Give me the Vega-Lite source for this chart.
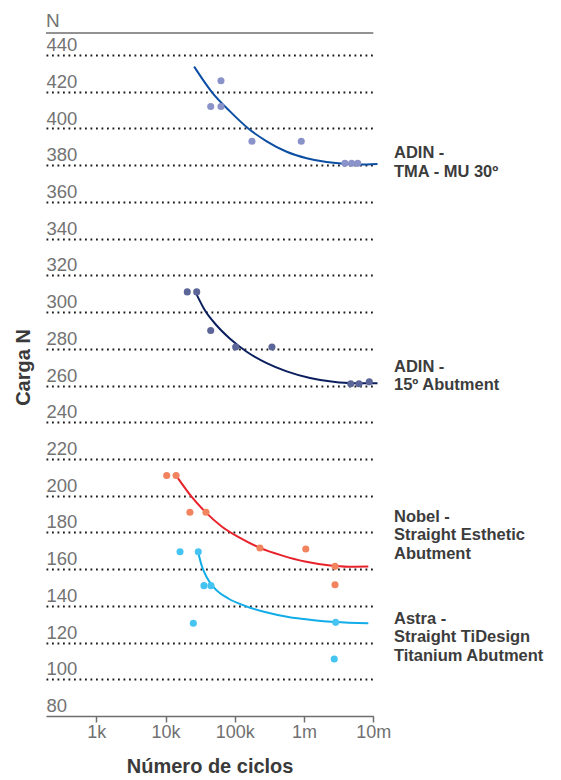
{
  "$schema": "https://vega.github.io/schema/vega-lite/v6.json",
  "autosize": {"type": "none"},
  "padding": {"left": 46, "top": 33, "right": 188, "bottom": 64},
  "width": 327.3,
  "height": 683,
  "background": "white",
  "config": {"view": {"stroke": null}, "font": "Liberation Sans"},
  "datasets": {
    "pts": [
      {"series": "tma", "cycles": 63200, "n": 426},
      {"series": "tma", "cycles": 44900, "n": 412},
      {"series": "tma", "cycles": 63200, "n": 412},
      {"series": "tma", "cycles": 177000, "n": 393},
      {"series": "tma", "cycles": 912000, "n": 393},
      {"series": "tma", "cycles": 3900000, "n": 381},
      {"series": "tma", "cycles": 4870000, "n": 381},
      {"series": "tma", "cycles": 5960000, "n": 381},
      {"series": "abut15", "cycles": 20600, "n": 311},
      {"series": "abut15", "cycles": 28200, "n": 311},
      {"series": "abut15", "cycles": 44900, "n": 290},
      {"series": "abut15", "cycles": 103000, "n": 281},
      {"series": "abut15", "cycles": 344000, "n": 281},
      {"series": "abut15", "cycles": 4720000, "n": 261},
      {"series": "abut15", "cycles": 6210000, "n": 261},
      {"series": "abut15", "cycles": 8750000, "n": 262},
      {"series": "nobel", "cycles": 10400, "n": 211},
      {"series": "nobel", "cycles": 14200, "n": 211},
      {"series": "nobel", "cycles": 22500, "n": 191},
      {"series": "nobel", "cycles": 38400, "n": 191},
      {"series": "nobel", "cycles": 231000, "n": 171.5},
      {"series": "nobel", "cycles": 1060000, "n": 171},
      {"series": "nobel", "cycles": 2800000, "n": 161.5},
      {"series": "nobel", "cycles": 2800000, "n": 151.5},
      {"series": "astra", "cycles": 16200, "n": 169.5},
      {"series": "astra", "cycles": 29700, "n": 169.5},
      {"series": "astra", "cycles": 35900, "n": 151},
      {"series": "astra", "cycles": 45300, "n": 151},
      {"series": "astra", "cycles": 25200, "n": 130.5},
      {"series": "astra", "cycles": 2860000, "n": 131},
      {"series": "astra", "cycles": 2730000, "n": 111}
    ],
    "curve": [
      {"series": "tma", "cycles": 25900, "n": 433.7},
      {"series": "tma", "cycles": 46300, "n": 420},
      {"series": "tma", "cycles": 85300, "n": 409.3},
      {"series": "tma", "cycles": 156700, "n": 400},
      {"series": "tma", "cycles": 289000, "n": 393},
      {"series": "tma", "cycles": 561000, "n": 387.3},
      {"series": "tma", "cycles": 1090000, "n": 383.8},
      {"series": "tma", "cycles": 2120000, "n": 381.7},
      {"series": "tma", "cycles": 4130000, "n": 380.7},
      {"series": "tma", "cycles": 8040000, "n": 380.4},
      {"series": "tma", "cycles": 11500000, "n": 380.6},
      {"series": "abut15", "cycles": 28200, "n": 309.5},
      {"series": "abut15", "cycles": 37200, "n": 300.8},
      {"series": "abut15", "cycles": 54800, "n": 292.7},
      {"series": "abut15", "cycles": 85300, "n": 285.5},
      {"series": "abut15", "cycles": 148600, "n": 278.4},
      {"series": "abut15", "cycles": 289000, "n": 272.2},
      {"series": "abut15", "cycles": 561000, "n": 267.7},
      {"series": "abut15", "cycles": 1220000, "n": 264.1},
      {"series": "abut15", "cycles": 2640000, "n": 262.0},
      {"series": "abut15", "cycles": 5140000, "n": 261.2},
      {"series": "abut15", "cycles": 11500000, "n": 261.2},
      {"series": "nobel", "cycles": 15000, "n": 209.7},
      {"series": "nobel", "cycles": 23900, "n": 199.3},
      {"series": "nobel", "cycles": 37200, "n": 191.3},
      {"series": "nobel", "cycles": 64700, "n": 183.2},
      {"series": "nobel", "cycles": 112000, "n": 177.5},
      {"series": "nobel", "cycles": 231000, "n": 171.6},
      {"series": "nobel", "cycles": 475000, "n": 167.5},
      {"series": "nobel", "cycles": 1030000, "n": 164.1},
      {"series": "nobel", "cycles": 2240000, "n": 162.1},
      {"series": "nobel", "cycles": 4350000, "n": 161.3},
      {"series": "nobel", "cycles": 8470000, "n": 161.4},
      {"series": "astra", "cycles": 29700, "n": 168.9},
      {"series": "astra", "cycles": 33300, "n": 161.8},
      {"series": "astra", "cycles": 39300, "n": 155.6},
      {"series": "astra", "cycles": 51700, "n": 149.4},
      {"series": "astra", "cycles": 80500, "n": 144.0},
      {"series": "astra", "cycles": 140000, "n": 140},
      {"series": "astra", "cycles": 273000, "n": 136.6},
      {"series": "astra", "cycles": 593000, "n": 133.9},
      {"series": "astra", "cycles": 1290000, "n": 132.3},
      {"series": "astra", "cycles": 2800000, "n": 131.2},
      {"series": "astra", "cycles": 8470000, "n": 130.5}
    ],
    "labels": [
      {"series": "tma", "label": "ADIN -\nTMA - MU 30º", "n": 383.8},
      {"series": "abut15", "label": "ADIN -\n15º Abutment", "n": 267.5},
      {"series": "nobel", "label": "Nobel -\nStraight Esthetic\nAbutment", "n": 185.8},
      {"series": "astra", "label": "Astra -\nStraight TiDesign\nTitanium Abutment", "n": 130.1}
    ]
  },
  "layer": [
    {
      "data": {"name": "curve"},
      "mark": {"type": "line", "interpolate": "monotone", "strokeWidth": 2, "clip": false},
      "encoding": {
        "x": {
          "field": "cycles", "type": "quantitative",
          "scale": {"type": "log", "domain": [188, 10000000], "nice": false},
          "axis": {
            "values": [1000, 10000, 100000, 1000000, 10000000],
            "labelExpr": "datum.value == 1000 ? '1k' : datum.value == 10000 ? '10k' : datum.value == 100000 ? '100k' : datum.value == 1000000 ? '1m' : '10m'",
            "grid": false,
            "domainColor": "#6e6e6e", "domainWidth": 1.5,
            "tickColor": "#6e6e6e", "tickWidth": 1.5, "tickSize": 6,
            "labelFontSize": 18, "labelColor": "#707070", "labelPadding": 2,
            "labelFlush": false, "labelOverlap": false,
            "title": "Número de ciclos", "titleFontSize": 20, "titleFontWeight": "bold",
            "titleColor": "#3a3a3a", "titleY": 57, "titleBaseline": "alphabetic"
          }
        },
        "y": {
          "field": "n", "type": "quantitative",
          "scale": {"domain": [80, 452], "nice": false, "zero": false},
          "axis": {
            "values": [80, 100, 120, 140, 160, 180, 200, 220, 240, 260, 280, 300, 320, 340, 360, 380, 400, 420, 440],
            "tickCount": 19,
            "domain": false, "ticks": false, "tickSize": 0,
            "labelAlign": "left", "labelBaseline": "alphabetic", "labelPadding": 0, "labelOffset": -4.4,
            "labelFontSize": 18.5, "labelColor": "#737373", "labelOverlap": false, "labelFlush": false,
            "labelSeparation": 0,
            "grid": true, "gridColor": "#1a1a1a", "gridDash": [1.8, 3.7], "gridWidth": 1.8,
            "gridOpacity": {"condition": {"test": "datum.value === 80", "value": 0}, "value": 1},
            "title": "Carga N", "titleFontSize": 20, "titleFontWeight": "bold", "titleColor": "#3a3a3a",
            "titleX": -22, "titleY": 334, "titleAngle": 270, "titleBaseline": "middle", "titleAlign": "center"
          }
        },
        "stroke": {
          "field": "series", "type": "nominal", "legend": null,
          "scale": {"domain": ["tma", "abut15", "nobel", "astra"], "range": ["#0b4ea2", "#0b1f5e", "#e8222a", "#12ace8"]}
        }
      }
    },
    {
      "data": {"name": "pts"},
      "mark": {"type": "circle", "size": 50, "opacity": 1, "clip": false},
      "encoding": {
        "x": {"field": "cycles", "type": "quantitative"},
        "y": {"field": "n", "type": "quantitative"},
        "fill": {
          "field": "series", "type": "nominal", "legend": null,
          "scale": {"domain": ["tma", "abut15", "nobel", "astra"], "range": ["#8a92ca", "#5b6597", "#f2835f", "#45c4f2"]}
        }
      }
    },
    {
      "data": {"name": "labels"},
      "mark": {"type": "text", "align": "left", "baseline": "alphabetic", "dx": 20.7, "fontSize": 16.5, "fontWeight": "bold", "lineBreak": "\n", "lineHeight": 18.5, "color": "#3c3c3c"},
      "encoding": {
        "x": {"datum": 10000000, "type": "quantitative"},
        "y": {"field": "n", "type": "quantitative"},
        "text": {"field": "label"}
      }
    },
    {
      "data": {"values": [{}]},
      "mark": {"type": "rule", "color": "#6e6e6e", "strokeWidth": 1.5},
      "encoding": {"y": {"datum": 452, "type": "quantitative"}}
    },
    {
      "data": {"values": [{}]},
      "mark": {"type": "text", "align": "left", "baseline": "alphabetic", "dy": -6.3, "fontSize": 19, "color": "#737373"},
      "encoding": {
        "x": {"datum": 188, "type": "quantitative"},
        "y": {"datum": 452, "type": "quantitative"},
        "text": {"value": "N"}
      }
    }
  ]
}
